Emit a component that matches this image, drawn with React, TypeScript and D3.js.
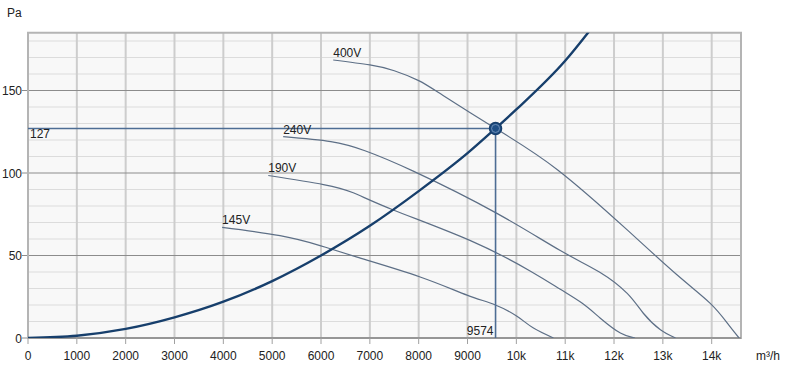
import React from "react";
import * as d3 from "d3";

const xTicks = [0, 1000, 2000, 3000, 4000, 5000, 6000, 7000, 8000, 9000, 10000, 11000, 12000, 13000, 14000];
const xTickLabels = ["0", "1000", "2000", "3000", "4000", "5000", "6000", "7000", "8000", "9000", "10k", "11k", "12k", "13k", "14k"];
const yMajor = [0, 50, 100, 150];
const yMinor = [10, 20, 30, 40, 60, 70, 80, 90, 110, 120, 130, 140, 160, 170, 180];

const curve400: [number, number][] = [[6250, 168.5], [7000, 165.5], [7500, 162], [8000, 156], [8500, 147], [9574, 127], [10840, 102], [12270, 65.5], [13300, 38], [13970, 21], [14320, 9], [14560, 0]];
const curve240: [number, number][] = [[5225, 122], [6200, 119], [6900, 113.5], [7900, 101], [9574, 76], [10900, 53], [11700, 40], [12270, 27], [12600, 15], [12950, 5], [13260, 0]];
const curve190: [number, number][] = [[4920, 98.5], [6050, 93], [6660, 88], [7480, 77.6], [9060, 59], [10290, 40.5], [10900, 29.5], [11350, 21], [11720, 12], [12130, 3], [12430, 0]];
const curve145: [number, number][] = [[3975, 67], [5160, 62], [5980, 56], [6740, 49], [8030, 37], [8990, 26], [9570, 20], [10020, 13], [10350, 6], [10760, 0]];
const fanLabels = ["400V", "240V", "190V", "145V"];
const systemCurve: [number, number][] = [[0, 0], [1000, 1.4], [2000, 5.5], [3000, 12.5], [4000, 22], [5000, 34.5], [6000, 50], [7000, 68], [8000, 89], [9000, 112], [9574, 127], [10000, 138.5], [11000, 168], [11600, 190]];
const opFlow = 9574;
const opPressure = 127;

export default function App() {
  const W = 787, H = 372;
  const x = d3.scaleLinear().domain([0, 14600]).range([28, 741]);
  const y = d3.scaleLinear().domain([0, 185]).range([338, 32.75]);
  const fanLine = d3.line<[number, number]>().x(d => x(d[0])).y(d => y(d[1])).curve(d3.curveNatural);
  const sysLine = d3.line<[number, number]>().x(d => x(d[0])).y(d => y(d[1])).curve(d3.curveMonotoneX);
  const fans = [curve400, curve240, curve190, curve145];
  const font = "Arial, 'Liberation Sans', sans-serif";
  const [x0, x1] = x.range();
  const [y0, y1] = y.range();
  return (
    <svg width={W} height={H} style={{ position: "absolute", left: 0, top: 0, background: "#fff" }} fontFamily={font}>
      <defs>
        <clipPath id="plotclip">
          <rect x={x0} y={y1} width={x1 - x0} height={y0 - y1} />
        </clipPath>
      </defs>
      <rect x={x0} y={y1} width={x1 - x0} height={y0 - y1} fill="#f8f8f8" />
      {yMinor.map(v => (
        <line key={"mi" + v} x1={x0} x2={x1} y1={y(v)} y2={y(v)} stroke="#dcdcdc" strokeWidth={1} />
      ))}
      {xTicks.map(v => (
        <line key={"vx" + v} x1={x(v)} x2={x(v)} y1={y1} y2={y0} stroke="#cdcdcd" strokeWidth={2} />
      ))}
      {yMajor.map(v => (
        <line key={"ma" + v} x1={x0 - 6} x2={x1} y1={y(v)} y2={y(v)} stroke="#8c8c8c" strokeWidth={1} />
      ))}
      <rect x={x0} y={y1} width={x1 - x0} height={y0 - y1} fill="none" stroke="#b4b4b4" strokeWidth={2} />
      <line x1={x0} x2={x1} y1={y0} y2={y0} stroke="#8c8c8c" strokeWidth={1.5} />
      {xTicks.map(v => (
        <line key={"tx" + v} x1={x(v)} x2={x(v)} y1={y0} y2={y0 + 6} stroke="#a0a0a0" strokeWidth={1} />
      ))}
      {yMajor.map(v => (
        <text key={"yl" + v} x={x0 - 6} y={y(v) + 4.5} fontSize={12} textAnchor="end" fill="#222">{v}</text>
      ))}
      {xTicks.map((v, i) => (
        <text key={"xl" + v} x={x(v)} y={360} fontSize={12} textAnchor="middle" fill="#222">{xTickLabels[i]}</text>
      ))}
      <text x={7} y={17} fontSize={12} fill="#222">Pa</text>
      <text x={756} y={360} fontSize={12} fill="#222">m³/h</text>
      <g clipPath="url(#plotclip)">
        {fans.map((c, i) => (
          <path key={"f" + i} d={fanLine(c) || ""} fill="none" stroke="#5d6f86" strokeWidth={1.2} />
        ))}
        <line x1={x0} x2={x(opFlow)} y1={y(opPressure)} y2={y(opPressure)} stroke="#4d6d94" strokeWidth={1.6} />
        <line x1={x(opFlow)} x2={x(opFlow)} y1={y(opPressure)} y2={y0} stroke="#4d6d94" strokeWidth={1.6} />
        <path d={sysLine(systemCurve) || ""} fill="none" stroke="#173f6c" strokeWidth={2.4} />
      </g>
      {fans.map((c, i) => (
        <text key={"fl" + i} x={x(c[0][0])} y={y(c[0][1]) - 3} fontSize={12} fill="#222">{fanLabels[i]}</text>
      ))}
      <text x={30} y={y(opPressure) + 10} fontSize={12} fill="#222">{opPressure}</text>
      <text x={x(opFlow) - 2} y={y0 - 3} fontSize={12} textAnchor="end" fill="#222">{opFlow}</text>
      <circle cx={x(opFlow)} cy={y(opPressure)} r={6} fill="#1f4f86" stroke="#173f6c" strokeWidth={1.5} />
      <circle cx={x(opFlow)} cy={y(opPressure)} r={4} fill="none" stroke="#7f9cc0" strokeWidth={0.8} />
    </svg>
  );
}
